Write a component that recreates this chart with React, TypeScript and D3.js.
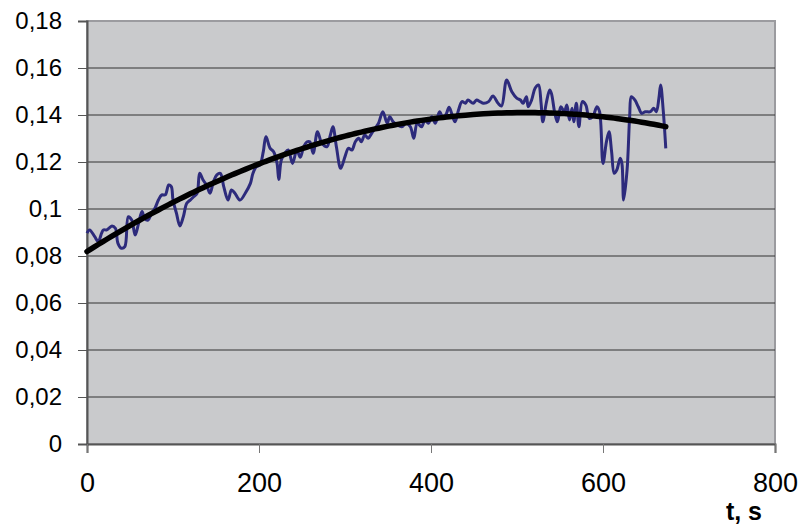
import React, { useEffect, useRef } from 'react';
import { select, scaleLinear, line, curveCatmullRom, axisLeft, axisBottom } from 'd3';

// measured series (time in s, value)
const times = [
  0, 3, 9, 13, 17, 19, 23, 29, 33, 36, 40, 44, 48, 52, 56, 60, 64, 67, 71, 75,
  79, 83, 87, 91, 95, 98, 100, 104, 108, 112, 116, 120, 124, 128, 131, 135, 139, 143, 147, 151,
  155, 159, 164, 168, 172, 178, 184, 190, 193, 197, 201, 205, 208, 213, 217, 221, 223, 226, 230, 234,
  239, 244, 248, 252, 256, 259, 263, 268, 273, 279, 283, 286, 290, 295, 300, 304, 308, 312, 316, 319,
  323, 327, 331, 335, 339, 344, 349, 352, 356, 361, 366, 371, 376, 380, 384, 389, 393, 397, 401, 405,
  410, 414, 418, 421, 424, 428, 432, 436, 440, 443, 449, 453, 457, 461, 467, 472, 478, 482, 488, 494,
  500, 504, 507, 511, 513, 517, 521, 525, 528, 530, 534, 538, 540, 544, 547, 551, 555, 558, 561, 564,
  566, 569, 572, 576, 580, 584, 588, 593, 596, 600, 604, 607, 610, 613, 616, 620, 622, 624, 628, 631,
  633, 637, 641, 645, 649, 655, 659, 662, 665, 667, 670, 673,
];
const values = [
  0.0897, 0.0911, 0.0882, 0.0861, 0.0897, 0.0911, 0.0911, 0.0928, 0.0918, 0.0854,
  0.0833, 0.084, 0.0967, 0.0953, 0.0889, 0.0939, 0.0989, 0.096, 0.0953, 0.0982,
  0.1003, 0.1038, 0.106, 0.106, 0.1102, 0.1095, 0.1038, 0.0982, 0.0928, 0.0967,
  0.1024, 0.1038, 0.1052, 0.1067, 0.1152, 0.1123, 0.1102, 0.1067, 0.1116, 0.1145,
  0.1152, 0.1095, 0.1038, 0.1081, 0.1067, 0.1038, 0.1067, 0.1109, 0.1152, 0.118,
  0.1187, 0.1244, 0.1308, 0.1258, 0.1244, 0.1194, 0.1126, 0.1209, 0.1237, 0.1251,
  0.1194, 0.1251, 0.122, 0.1265, 0.1286, 0.1286, 0.1237, 0.1329, 0.128, 0.1265,
  0.1315, 0.135, 0.1265, 0.1173, 0.1223, 0.1258, 0.1251, 0.1286, 0.1301, 0.1286,
  0.1315, 0.1301, 0.1322, 0.1343, 0.1365, 0.1414, 0.1365, 0.1393, 0.1371, 0.1357,
  0.135, 0.1365, 0.135, 0.1301, 0.1365, 0.135, 0.1379, 0.1365, 0.1393, 0.1365,
  0.1414, 0.1386, 0.1407, 0.1433, 0.1407, 0.1371, 0.1421, 0.1457, 0.145, 0.1464,
  0.145, 0.1464, 0.1457, 0.145, 0.1457, 0.1481, 0.145, 0.1438, 0.1549, 0.1499,
  0.1471, 0.1464, 0.145, 0.1478, 0.1435, 0.1464, 0.1514, 0.1528, 0.145, 0.1371,
  0.145, 0.1506, 0.1492, 0.1407, 0.1371, 0.1435, 0.1414, 0.1443, 0.1379, 0.1429,
  0.1371, 0.145, 0.135, 0.1457, 0.1443, 0.1386, 0.1393, 0.1435, 0.1414, 0.1194,
  0.1286, 0.1329, 0.1244, 0.1152, 0.1166, 0.1216, 0.1194, 0.1038, 0.1166, 0.1393,
  0.1478, 0.1464, 0.1435, 0.1407, 0.1414, 0.1414, 0.1429, 0.1414, 0.1471, 0.1528,
  0.1421, 0.1258,
];

const yTicks = [0, 0.02, 0.04, 0.06, 0.08, 0.1, 0.12, 0.14, 0.16, 0.18];
const yTickLabels = ['0', '0,02', '0,04', '0,06', '0,08', '0,1', '0,12', '0,14', '0,16', '0,18'];
const xTicks = [0, 200, 400, 600, 800];
const xTitle = 't, s';

// 2nd order polynomial trendline (least squares), like the spreadsheet one
function quadFit(xs: number[], ys: number[]) {
  const n = xs.length;
  let s1 = 0, s2 = 0, s3 = 0, s4 = 0, sy = 0, sxy = 0, sx2y = 0;
  for (let i = 0; i < n; i++) {
    const x = xs[i], y = ys[i];
    s1 += x; s2 += x * x; s3 += x * x * x; s4 += x * x * x * x;
    sy += y; sxy += x * y; sx2y += x * x * y;
  }
  const m = [
    [n, s1, s2, sy],
    [s1, s2, s3, sxy],
    [s2, s3, s4, sx2y],
  ];
  for (let c = 0; c < 3; c++) {
    for (let r = c + 1; r < 3; r++) {
      const f = m[r][c] / m[c][c];
      for (let k = c; k < 4; k++) m[r][k] -= f * m[c][k];
    }
  }
  const coef = [0, 0, 0];
  for (let r = 2; r >= 0; r--) {
    let s = m[r][3];
    for (let k = r + 1; k < 3; k++) s -= m[r][k] * coef[k];
    coef[r] = s / m[r][r];
  }
  return (x: number) => coef[0] + coef[1] * x + coef[2] * x * x;
}

export default function App() {
  const svgRef = useRef<SVGSVGElement>(null);

  useEffect(() => {
    if (!svgRef.current) return;
    const W = 801, H = 526;
    const left = 87, right = 775, top = 21, bottom = 444;

    const svg = select(svgRef.current);
    svg.selectAll('*').remove();
    svg.attr('width', W).attr('height', H).attr('viewBox', `0 0 ${W} ${H}`);

    const x = scaleLinear().domain([0, 800]).range([left, right]);
    const y = scaleLinear().domain([0, 0.18]).range([bottom, top]);

    // plot area
    svg.append('rect')
      .attr('x', left).attr('y', top)
      .attr('width', right - left).attr('height', bottom - top)
      .attr('fill', '#c9cacc')
      .attr('stroke', '#9b9b9f')
      .attr('stroke-width', 2);

    // gridlines
    svg.append('g')
      .selectAll('line')
      .data(yTicks.slice(1, -1))
      .enter()
      .append('line')
      .attr('x1', left).attr('x2', right)
      .attr('y1', d => y(d)).attr('y2', d => y(d))
      .attr('stroke', '#333')
      .attr('stroke-width', 1);

    // y axis
    const yAxis = svg.append('g')
      .attr('transform', `translate(${left},0)`)
      .call(axisLeft(y).tickValues(yTicks).tickSize(9).tickPadding(16)
        .tickFormat((_d, i) => yTickLabels[i]));
    yAxis.select('.domain').attr('stroke', '#555').attr('stroke-width', 2);
    yAxis.selectAll('.tick line').attr('stroke', '#555');
    yAxis.selectAll('text')
      .attr('fill', '#000')
      .style('font-family', 'Arial, "Liberation Sans", sans-serif')
      .style('font-size', '24px');

    // x axis
    const xAxis = svg.append('g')
      .attr('transform', `translate(0,${bottom})`)
      .call(axisBottom(x).tickValues(xTicks).tickSize(9).tickPadding(20)
        .tickFormat(d => String(d)));
    xAxis.select('.domain').attr('stroke', '#555').attr('stroke-width', 2);
    xAxis.selectAll('.tick line').attr('stroke', '#777');
    xAxis.selectAll('text')
      .attr('fill', '#000')
      .style('font-family', 'Arial, "Liberation Sans", sans-serif')
      .style('font-size', '27px');

    svg.append('text')
      .attr('x', 762).attr('y', 520)
      .attr('text-anchor', 'end')
      .style('font-family', 'Arial, "Liberation Sans", sans-serif')
      .style('font-size', '25px')
      .style('font-weight', 'bold')
      .text(xTitle);

    const pts = times.map((t, i) => ({ t, v: values[i] }));

    // measured curve
    const lineGen = line<{ t: number; v: number }>()
      .x(d => x(d.t)).y(d => y(d.v))
      .curve(curveCatmullRom.alpha(0.5));
    svg.append('path')
      .datum(pts)
      .attr('d', lineGen)
      .attr('fill', 'none')
      .attr('stroke', '#2d2b7c')
      .attr('stroke-width', 3)
      .attr('stroke-linejoin', 'round');

    // trendline
    const fit = quadFit(times, values);
    const trendGen = line<{ t: number; v: number }>()
      .x(d => x(d.t)).y(d => y(fit(d.t)));
    svg.append('path')
      .datum(pts)
      .attr('d', trendGen)
      .attr('fill', 'none')
      .attr('stroke', '#000')
      .attr('stroke-width', 5.5)
      .attr('stroke-linecap', 'round');
  }, []);

  return <svg ref={svgRef} style={{ position: 'absolute', left: 0, top: 0 }} />;
}
